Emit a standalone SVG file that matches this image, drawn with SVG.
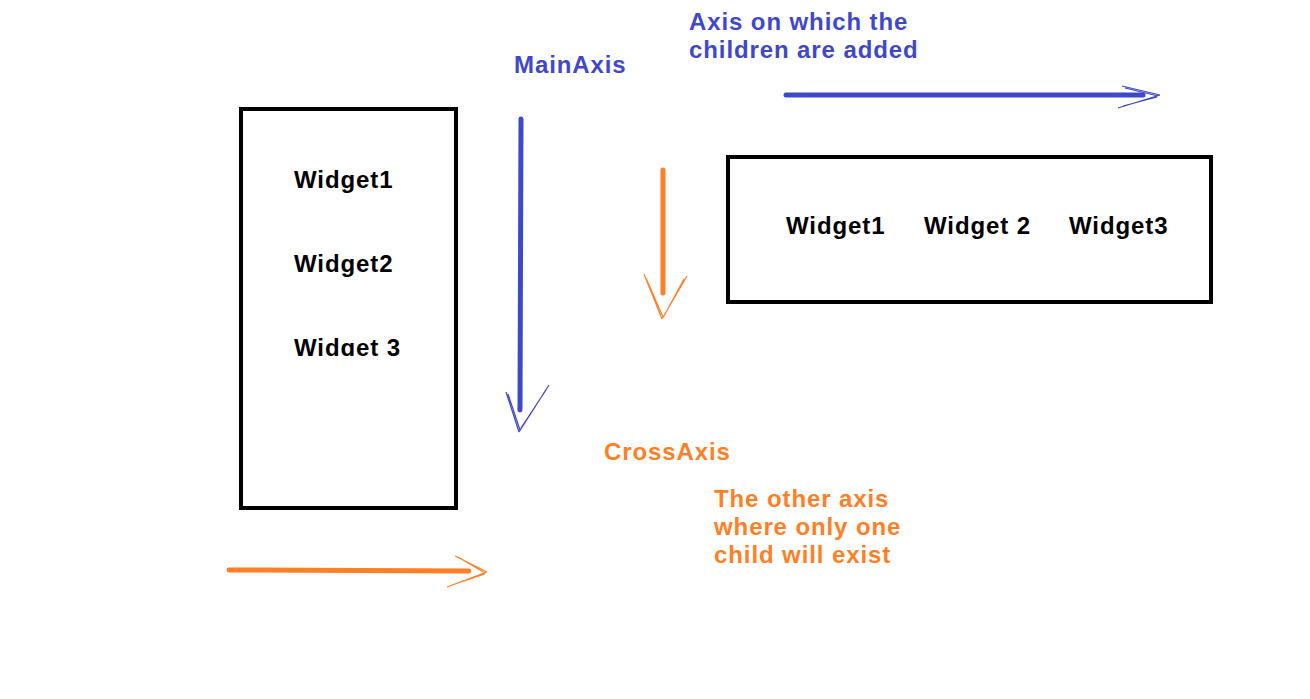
<svg xmlns="http://www.w3.org/2000/svg" width="1310" height="699" viewBox="0 0 1310 699">
<style>
.t{font-family:"Liberation Sans",Arial,sans-serif;font-weight:bold;font-size:24px;letter-spacing:0.9px}
.k{fill:#000}
.b{fill:#3f48cc}
.o{fill:#ff7f27}
.box{fill:none;stroke:#000;stroke-width:4}
.sb{stroke:#3f48cc;stroke-width:5;stroke-linecap:round;fill:none}
.so{stroke:#ff7f27;stroke-width:5;stroke-linecap:round;fill:none}
.hb{stroke:#3f48cc;stroke-width:1.2;fill:none}
.ho{stroke:#ff7f27;stroke-width:1.2;fill:none}
</style>
<defs>
<clipPath id="clip3"><rect x="280" y="320" width="160" height="36"/></clipPath>
</defs>
<rect width="1310" height="699" fill="#fff"/>
<g id="column">
<rect class="box" x="241" y="109" width="215" height="399"/>
<text class="t k" x="294" y="188">Widget1</text>
<text class="t k" x="294" y="272">Widget2</text>
<text class="t k" x="294" y="356" clip-path="url(#clip3)">Widget 3</text>
</g>
<g id="row">
<rect class="box" x="728" y="157" width="483" height="145"/>
<text class="t k" x="786" y="234">Widget1</text>
<text class="t k" x="924" y="234">Widget 2</text>
<text class="t k" x="1069" y="234">Widget3</text>
</g>
<g id="labels">
<text class="t b" x="514" y="73">MainAxis</text>
<text class="t b" x="689" y="30">Axis on which the</text>
<text class="t b" x="689" y="58">children are added</text>
<text class="t o" x="604" y="460">CrossAxis</text>
<text class="t o" x="714" y="507">The other axis</text>
<text class="t o" x="714" y="535">where only one</text>
<text class="t o" x="714" y="563">child will exist</text>
</g>
<g id="connectors">
<line class="sb" x1="786" y1="95" x2="1143" y2="95"/>
<path class="hb" d="M1122,86 L1160,95 M1125,88 L1158,96 M1118,108 L1160,95 M1123,106 L1157,97"/>
<line class="sb" x1="521" y1="119" x2="520" y2="410"/>
<path class="hb" d="M506,392 L519,432 M508,394 L520,430 M549,385 L519,432 M546,390 L521,428"/>
<line class="so" x1="663" y1="170" x2="663" y2="293"/>
<path class="ho" d="M644,274 L662,319 M646,278 L663,317 M687,276 L662,319 M684,279 L664,316"/>
<line class="so" x1="229" y1="570" x2="469" y2="571"/>
<path class="ho" d="M455,556 L487,572 M458,557 L485,573 M447,587 L487,572 M452,585 L485,574"/>
</g>
</svg>
